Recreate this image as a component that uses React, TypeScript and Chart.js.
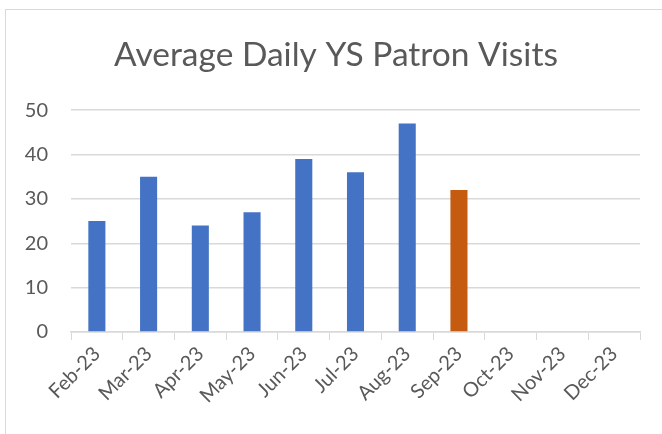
import React, { useEffect, useRef } from "react";
import { Chart, registerables } from "chart.js";

Chart.register(...registerables);

const months = ["Feb-23", "Mar-23", "Apr-23", "May-23", "Jun-23", "Jul-23", "Aug-23", "Sep-23", "Oct-23", "Nov-23", "Dec-23"];
const visits = [25, 35, 24, 27, 39, 36, 47, 32, null, null, null];
const highlightMonth = "Sep-23";
const chartTitle = "Average Daily YS Patron Visits";

const BLUE = "#4472C4";
const ORANGE = "#C55A11";
const TEXT = "#595959";
const GRID = "#D9D9D9";

export default function App() {
  const ref = useRef<HTMLCanvasElement | null>(null);

  useEffect(() => {
    if (!ref.current) return;
    const chart = new Chart(ref.current, {
      type: "bar",
      data: {
        labels: months,
        datasets: [
          {
            data: visits as any,
            backgroundColor: months.map((m) => (m === highlightMonth ? ORANGE : BLUE)),
            barPercentage: 0.33,
            categoryPercentage: 1,
          },
        ],
      },
      options: {
        animation: false,
        responsive: false,
        maintainAspectRatio: false,
        layout: { padding: { left: 10, right: 0, top: 0, bottom: 0 } },
        plugins: {
          legend: { display: false },
          tooltip: { enabled: false },
          title: {
            display: true,
            text: chartTitle,
            color: TEXT,
            font: { family: "Lato", size: 33.5, weight: "normal" as any },
            padding: { top: 35, bottom: 35 },
          },
        },
        scales: {
          x: {
            offset: true,
            grid: {
              offset: true,
              drawOnChartArea: false,
              drawTicks: true,
              tickLength: 8,
              color: GRID,
            },
            border: { display: true, color: GRID, width: 1.5 },
            ticks: {
              color: TEXT,
              font: { family: "Lato", size: 20 },
              minRotation: 45,
              maxRotation: 45,
              autoSkip: false,
              padding: 2,
            },
            afterFit: (s: any) => {
              s.height = 102;
            },
          },
          y: {
            min: 0,
            max: 50,
            grid: { color: GRID, drawTicks: false, lineWidth: 1.5 },
            border: { display: false },
            ticks: {
              stepSize: 10,
              color: TEXT,
              font: { family: "Lato", size: 20 },
              padding: 23,
            },
            afterFit: (s: any) => {
              s.width = 61;
            },
          },
          yRight: {
            position: "right",
            display: true,
            min: 0,
            max: 50,
            grid: { display: false, drawTicks: false },
            border: { display: false },
            ticks: { display: false },
            afterFit: (s: any) => {
              s.width = 22;
            },
          },
        },
      },
    });
    return () => chart.destroy();
  }, []);

  return (
    <div style={{ position: "absolute", left: 0, top: 0, width: 662, height: 434, overflow: "hidden", background: "#fff" }}>
      <div
        style={{
          position: "absolute",
          left: 5,
          top: 9,
          width: 700,
          height: 500,
          border: "1.5px solid #D9D9D9",
          boxSizing: "border-box",
        }}
      />
      <canvas ref={ref} width={662} height={434} style={{ position: "absolute", left: 0, top: 0 }} />
    </div>
  );
}
